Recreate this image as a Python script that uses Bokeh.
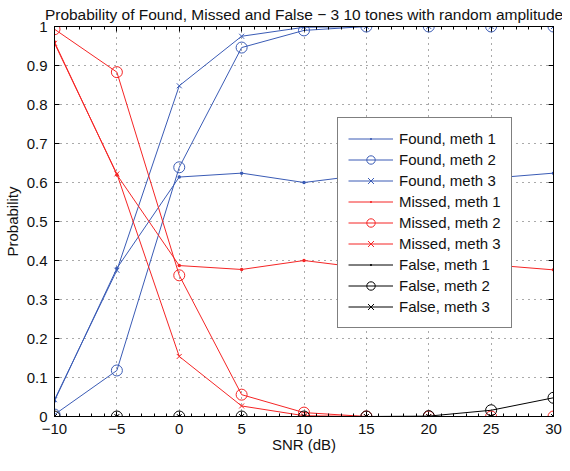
from bokeh.plotting import figure
from bokeh.models import (Range1d, FixedTicker, LinearAxis, Legend, LegendItem)
from bokeh.embed import file_html
from bokeh.resources import INLINE

# ---- data ----
snr = [-10, -5, 0, 5, 10, 15, 20, 25, 30]
found_m1 = [0.040, 0.380, 0.614, 0.624, 0.600, 0.620, 0.615, 0.611, 0.624]
found_m2 = [0.005, 0.118, 0.639, 0.946, 0.990, 1.000, 1.000, 1.000, 1.000]
found_m3 = [0.043, 0.375, 0.848, 0.975, 0.998, 1.000, 1.000, 1.000, 1.000]
missed_m1 = [0.960, 0.620, 0.387, 0.377, 0.400, 0.380, 0.385, 0.389, 0.376]
missed_m2 = [0.993, 0.883, 0.362, 0.056, 0.010, 0.000, 0.000, 0.000, 0.000]
missed_m3 = [0.957, 0.622, 0.154, 0.027, 0.002, 0.000, 0.000, 0.000, 0.000]
false_m1 = [0, 0, 0, 0, 0, 0, 0, 0, 0]
false_m2 = [0, 0, 0, 0, 0, 0, 0.001, 0.016, 0.048]
false_m3 = [0, 0, 0, 0, 0, 0, 0, 0, 0]

x_ticks = [-10, -5, 0, 5, 10, 15, 20, 25, 30]
x_tick_labels = ["\u221210", "\u22125", "0", "5", "10", "15", "20", "25", "30"]
x_minor = list(range(-10, 31))
y_ticks = [0, 0.1, 0.2, 0.3, 0.4, 0.5, 0.6, 0.7, 0.8, 0.9, 1]
y_tick_labels = ["0", "0.1", "0.2", "0.3", "0.4", "0.5", "0.6", "0.7", "0.8", "0.9", "1"]

title_text = "Probability of Found, Missed and False \u2212 3 10 tones with random amplitude"
x_label = "SNR (dB)"
y_label = "Probability"

BLUE = "#3a5bb5"
RED = "#f52525"
BLACK = "#000000"
TXT = "#111111"
FONT = "Liberation Sans"

p = figure(width=562, height=455, output_backend="svg", toolbar_location=None,
           x_range=Range1d(-10, 30), y_range=Range1d(0, 1),
           min_border_left=49, min_border_right=9, min_border_top=21, min_border_bottom=37)

p.title.text = title_text
p.title.text_font = FONT
p.title.text_font_size = "15.5px"
p.title.text_font_style = "normal"
p.title.text_color = TXT
p.title.align = "center"
p.title.standoff = 7
p.title.offset = 0

# axes
xax = p.xaxis[0]
xax.ticker = FixedTicker(ticks=x_ticks, minor_ticks=x_minor)
xax.major_label_overrides = {t: l for t, l in zip(x_ticks, x_tick_labels)}
yax = p.yaxis[0]
yax.ticker = FixedTicker(ticks=y_ticks)
yax.major_label_overrides = {t: l for t, l in zip(y_ticks, y_tick_labels)}

for ax in (xax, yax):
    ax.major_tick_in = 5
    ax.major_tick_out = 0
    ax.minor_tick_in = 3
    ax.minor_tick_out = 0
    ax.major_label_text_font = FONT
    ax.major_label_text_font_size = "15px"
    ax.major_label_text_color = TXT
    ax.axis_label_text_font = FONT
    ax.axis_label_text_font_size = "15px"
    ax.axis_label_text_font_style = "normal"
    ax.axis_label_text_color = TXT
    ax.axis_line_color = BLACK
    ax.major_tick_line_color = BLACK
    ax.minor_tick_line_color = BLACK
    ax.major_label_standoff = 7
yax.minor_tick_line_color = None
xax.axis_label = x_label
yax.axis_label = y_label
xax.axis_label_standoff = -1
yax.axis_label_standoff = 3

# mirrored box ticks (top / right), no labels
top = LinearAxis(ticker=FixedTicker(ticks=x_ticks, minor_ticks=x_minor),
                 major_label_overrides={t: "" for t in x_ticks},
                 major_label_text_font_size="1px", major_label_text_color=None,
                 major_label_standoff=0,
                 major_tick_in=5, major_tick_out=0, minor_tick_in=3, minor_tick_out=0,
                 axis_line_color=BLACK)
right = LinearAxis(ticker=FixedTicker(ticks=y_ticks),
                   major_label_overrides={t: "" for t in y_ticks},
                   major_label_text_font_size="1px", major_label_text_color=None,
                   major_label_standoff=0,
                   major_tick_in=5, major_tick_out=0, minor_tick_line_color=None,
                   axis_line_color=BLACK)
p.add_layout(top, "above")
p.add_layout(right, "right")

p.outline_line_color = BLACK
p.grid.grid_line_color = "#555555"
p.grid.grid_line_dash = "1 5"
p.grid.grid_line_width = 1
p.xgrid.ticker = FixedTicker(ticks=x_ticks)
p.ygrid.ticker = FixedTicker(ticks=y_ticks)

series = [
    ("Found, meth 1", found_m1, BLUE, "dot"),
    ("Found, meth 2", found_m2, BLUE, "circle"),
    ("Found, meth 3", found_m3, BLUE, "x"),
    ("Missed, meth 1", missed_m1, RED, "dot"),
    ("Missed, meth 2", missed_m2, RED, "circle"),
    ("Missed, meth 3", missed_m3, RED, "x"),
    ("False, meth 1", false_m1, BLACK, "dot"),
    ("False, meth 2", false_m2, BLACK, "circle"),
    ("False, meth 3", false_m3, BLACK, "x"),
]

items = []
for label, ys, color, mk in series:
    lr = p.line(snr, ys, line_color=color, line_width=1)
    if mk == "dot":
        mr = p.scatter(snr, ys, marker="dot", size=14, fill_color=color, line_color=color)
    elif mk == "circle":
        mr = p.scatter(snr, ys, marker="circle", size=11, fill_color=None, line_color=color, line_width=1)
    else:
        mr = p.scatter(snr, ys, marker="x", size=7, line_color=color, line_width=1)
    items.append(LegendItem(label=label, renderers=[lr, mr]))

legend = Legend(items=items, location=(283, 88),
                label_text_font=FONT, label_text_font_size="15px", label_text_color=TXT,
                label_height=21, glyph_height=21, glyph_width=45, label_standoff=6,
                padding=10, spacing=0, margin=0,
                border_line_color=BLACK, border_line_width=1,
                background_fill_color="white", background_fill_alpha=1.0)
p.add_layout(legend, "center")

open("out.html", "w").write(file_html(p, INLINE))
